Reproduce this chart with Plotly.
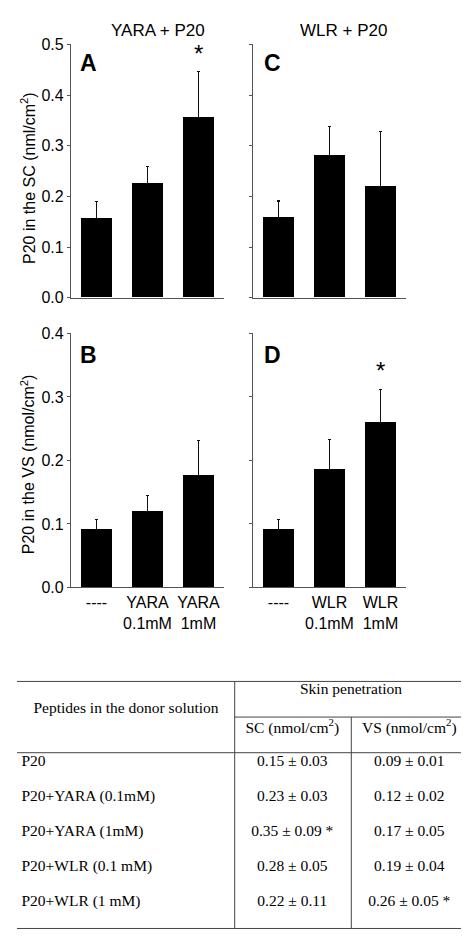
import plotly.graph_objects as go

# ---------------- data ----------------
cats_yara = ["----", "YARA<br>0.1mM", "YARA<br>1mM"]
cats_wlr = ["----", "WLR<br>0.1mM", "WLR<br>1mM"]

sc_yara = [0.157, 0.226, 0.356]
sc_yara_sd = [0.033, 0.033, 0.090]
sc_yara_sig = ["", "", "*"]

sc_wlr = [0.158, 0.281, 0.219]
sc_wlr_sd = [0.033, 0.057, 0.109]
sc_wlr_sig = ["", "", ""]

vs_yara = [0.091, 0.120, 0.176]
vs_yara_sd = [0.016, 0.025, 0.056]
vs_yara_sig = ["", "", ""]

vs_wlr = [0.091, 0.186, 0.260]
vs_wlr_sd = [0.016, 0.047, 0.052]
vs_wlr_sig = ["", "", "*"]

sc_ticks = [0.0, 0.1, 0.2, 0.3, 0.4, 0.5]
vs_ticks = [0.0, 0.1, 0.2, 0.3, 0.4]

# table data
tbl_peptides = ["P20", "P20+YARA (0.1mM)", "P20+YARA (1mM)", "P20+WLR (0.1 mM)", "P20+WLR (1 mM)"]
tbl_sc_mean = ["0.15", "0.23", "0.35", "0.28", "0.22"]
tbl_sc_sd = ["0.03", "0.03", "0.09", "0.05", "0.11"]
tbl_sc_sig = ["", "", " *", "", ""]
tbl_vs_mean = ["0.09", "0.12", "0.17", "0.19", "0.26"]
tbl_vs_sd = ["0.01", "0.02", "0.05", "0.04", "0.05"]
tbl_vs_sig = ["", "", "", "", " *"]

# ---------------- layout helpers ----------------
W, H = 469, 939


def px(xp):
    return xp / W


def py(yp):
    return 1 - yp / H


SANS = "Liberation Sans, Arial, sans-serif"
SERIF = "Liberation Serif, Times New Roman, serif"
AXC = "#555555"

fig = go.Figure()
ann = []

panels = [
    ("x", "y", sc_yara, sc_yara_sd, sc_yara_sig),
    ("x2", "y2", sc_wlr, sc_wlr_sd, sc_wlr_sig),
    ("x3", "y3", vs_yara, vs_yara_sd, vs_yara_sig),
    ("x4", "y4", vs_wlr, vs_wlr_sd, vs_wlr_sig),
]

for xa, ya, vals, sd, sig in panels:
    xs = list(range(len(vals)))
    fig.add_trace(go.Bar(
        x=xs, y=vals, xaxis=xa, yaxis=ya, width=0.61,
        marker=dict(color="black", line=dict(width=0)),
        error_y=dict(type="data", symmetric=False, array=sd,
                     arrayminus=[0] * len(sd), color="#111111",
                     thickness=1.1, width=1.5),
        showlegend=False, hoverinfo="skip",
    ))
    for xi, v, s, g in zip(xs, vals, sd, sig):
        if g:
            ann.append(dict(text=g, x=xi, y=v + s, xref=xa, yref=ya,
                            showarrow=False, xanchor="center", yanchor="bottom",
                            yshift=3, font=dict(family=SANS, size=24, color="black")))

dom_x_left = [px(63), px(216)]
dom_x_right = [px(245), px(398)]
dom_y_top = [py(287), py(29)]
dom_y_bot = [py(582), py(323.3)]

axis_common = dict(showline=True, linecolor=AXC, linewidth=1.2, showgrid=False,
                   zeroline=False)

layout = dict(
    width=W, height=H, margin=dict(l=0, r=0, t=0, b=0),
    paper_bgcolor="white", plot_bgcolor="white", bargap=0,
    font=dict(family=SANS, size=16, color="black"),
    showlegend=False,
)

specs = [
    ("xaxis", "yaxis", dom_x_left, dom_y_top, cats_yara, sc_ticks, True, False),
    ("xaxis2", "yaxis2", dom_x_right, dom_y_top, cats_wlr, sc_ticks, False, False),
    ("xaxis3", "yaxis3", dom_x_left, dom_y_bot, cats_yara, vs_ticks, True, True),
    ("xaxis4", "yaxis4", dom_x_right, dom_y_bot, cats_wlr, vs_ticks, False, True),
]
for i, (xk, yk, dx, dy, cats, ticks, ylab, xlab) in enumerate(specs, start=1):
    anchor_x = "y" if i == 1 else f"y{i}"
    anchor_y = "x" if i == 1 else f"x{i}"
    layout[xk] = dict(domain=dx, anchor=anchor_x, range=[-0.5, 2.5],
                      tickmode="array", tickvals=[0, 1, 2], ticktext=cats,
                      showticklabels=xlab, ticks="",
                      tickfont=dict(family=SANS, size=16, color="black"),
                      **axis_common)
    layout[yk] = dict(domain=dy, anchor=anchor_y,
                      range=[0, ticks[-1]], tickmode="array", tickvals=ticks,
                      ticktext=[f"{t:.1f}" for t in ticks],
                      showticklabels=ylab, ticks="outside", ticklen=3,
                      tickcolor=AXC, tickwidth=1,
                      tickfont=dict(family=SANS, size=16, color="black"),
                      **axis_common)

# ---------------- table on its own axis ----------------
ROW_PX0, ROW_DY = 760.0, 35.7
tbl_dom = [0, py(640)]
r_top = (640 - ROW_PX0) / ROW_DY
r_bot = (939 - ROW_PX0) / ROW_DY
layout["xaxis5"] = dict(domain=[0, 1], anchor="y5", range=[0, W], visible=False)
layout["yaxis5"] = dict(domain=tbl_dom, anchor="x5", range=[r_bot, r_top], visible=False)

COL0, COL1, COL2 = 13.5, 284.3, 401.3
VL1, VL2 = 226.7, 343.3
XL, XR = 9, 460


def rr(ypix):
    return (ypix - ROW_PX0) / ROW_DY


rows = list(range(len(tbl_peptides)))
sc_txt = [f"{m} ± {s}{g}" for m, s, g in zip(tbl_sc_mean, tbl_sc_sd, tbl_sc_sig)]
vs_txt = [f"{m} ± {s}{g}" for m, s, g in zip(tbl_vs_mean, tbl_vs_sd, tbl_vs_sig)]
tfont = dict(family=SERIF, size=15.5, color="black")

fig.add_trace(go.Scatter(x=[COL0] * len(rows), y=rows, xaxis="x5", yaxis="y5",
                         mode="text", text=tbl_peptides, textposition="middle right",
                         textfont=tfont, hoverinfo="skip", showlegend=False))
fig.add_trace(go.Scatter(x=[COL1] * len(rows), y=rows, xaxis="x5", yaxis="y5",
                         mode="text", text=sc_txt, textposition="middle center",
                         textfont=tfont, hoverinfo="skip", showlegend=False))
fig.add_trace(go.Scatter(x=[COL2] * len(rows), y=rows, xaxis="x5", yaxis="y5",
                         mode="text", text=vs_txt, textposition="middle center",
                         textfont=tfont, hoverinfo="skip", showlegend=False))
fig.add_trace(go.Scatter(
    x=[118, 343, COL1, COL2], y=[rr(705.7), rr(687), rr(726), rr(726)],
    xaxis="x5", yaxis="y5", mode="text",
    text=["Peptides in the donor solution", "Skin penetration",
          "SC (nmol/cm<sup>2</sup>)", "VS (nmol/cm<sup>2</sup>)"],
    textposition="middle center", textfont=tfont, hoverinfo="skip", showlegend=False))

LC = "#444444"
shapes = [
    dict(type="line", xref="x5", yref="y5", x0=XL, x1=XR, y0=rr(677.7), y1=rr(677.7), line=dict(color=LC, width=1)),
    dict(type="line", xref="x5", yref="y5", x0=VL1, x1=XR, y0=rr(714), y1=rr(714), line=dict(color=LC, width=1)),
    dict(type="line", xref="x5", yref="y5", x0=XL, x1=XR, y0=rr(750.3), y1=rr(750.3), line=dict(color=LC, width=1)),
    dict(type="line", xref="x5", yref="y5", x0=XL, x1=XR, y0=rr(929.3), y1=rr(929.3), line=dict(color=LC, width=1)),
    dict(type="line", xref="x5", yref="y5", x0=VL1, x1=VL1, y0=rr(677.7), y1=rr(929.3), line=dict(color=LC, width=1)),
    dict(type="line", xref="x5", yref="y5", x0=VL2, x1=VL2, y0=rr(714), y1=rr(929.3), line=dict(color=LC, width=1)),
]
layout["shapes"] = shapes

# ---------------- annotations ----------------
ann.append(dict(text="YARA + P20", x=px(149.5), y=py(15), xref="paper", yref="paper",
                showarrow=False, xanchor="center", yanchor="middle",
                font=dict(family=SANS, size=17)))
ann.append(dict(text="WLR + P20", x=px(335), y=py(15), xref="paper", yref="paper",
                showarrow=False, xanchor="center", yanchor="middle",
                font=dict(family=SANS, size=17)))
for letter, xl, yc in [("A", 70, 47.5), ("C", 254, 47.5), ("B", 70, 345), ("D", 254, 345)]:
    ann.append(dict(text=f"<b>{letter}</b>", x=px(xl), y=py(yc), xref="paper", yref="paper",
                    showarrow=False, xanchor="left", yanchor="middle",
                    font=dict(family=SANS, size=23)))
ann.append(dict(text="P20 in the SC (nml/cm<sup>2</sup>)", x=px(20), y=py(165),
                xref="paper", yref="paper", showarrow=False, textangle=-90,
                xanchor="center", yanchor="middle", font=dict(family=SANS, size=16)))
ann.append(dict(text="P20 in the VS (nmol/cm<sup>2</sup>)", x=px(20), y=py(456.5),
                xref="paper", yref="paper", showarrow=False, textangle=-90,
                xanchor="center", yanchor="middle", font=dict(family=SANS, size=16)))
layout["annotations"] = ann

fig.update_layout(**layout)
fig.write_html("out.html")
